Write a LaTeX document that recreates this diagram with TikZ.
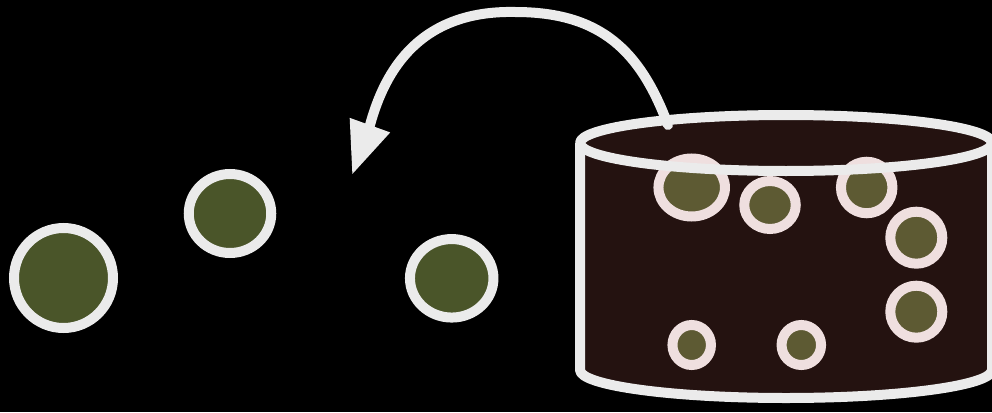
\documentclass[tikz,border=0pt]{standalone}
\usepackage{tikz}
\usetikzlibrary{arrows.meta,shapes.geometric}
\definecolor{Rimc}{RGB}{235,235,235}
\definecolor{Cellc}{RGB}{74,85,41}
\definecolor{Tubc}{RGB}{36,18,16}
\definecolor{Beadc}{RGB}{93,90,51}
\definecolor{BeadRim}{RGB}{239,223,223}
\tikzset{
  cell/.style={ellipse,draw=Rimc,fill=Cellc,line width=2mm,inner sep=0pt},
  bead/.style={ellipse,draw=BeadRim,fill=Beadc,line width=2mm,inner sep=0pt},
  rim/.style={draw=Rimc,line width=2mm,line join=round},
  carry/.style={-{Triangle[length=10.6mm,width=8mm]},draw=Rimc,fill=none,
                line width=2mm,line cap=round},
}

\begin{document}
\begin{tikzpicture}[x=0.2mm,y=-0.2mm]
  \fill[black] (0,0) rectangle (992,412);
  \useasboundingbox (0,0) rectangle (992,412);
  \clip (0,0) rectangle (992,412);
  % free cells
  \node[cell,minimum width=19.8mm,minimum height=20mm] (c1) at (63.5,278) {};
  \node[cell,minimum width=16.5mm,minimum height=15.8mm] (c2) at (230,213.5) {};
  \node[cell,minimum width=16.7mm,minimum height=15.7mm] (c3) at (451.7,278.3) {};
  % tub
  \fill[Tubc] (580,143) -- (580,370)
     arc[start angle=180,end angle=0,x radius=206,y radius=28] -- (992,143)
     arc[start angle=0,end angle=-180,x radius=206,y radius=28] -- cycle;
  \node[bead,minimum width=13.3mm,minimum height=11.6mm] (b1) at (691.7,187.5) {};
  \node[bead,minimum width=10.3mm,minimum height=9.6mm]  (b2) at (770,205) {};
  \node[bead,minimum width=10.3mm,minimum height=10.3mm] (b3) at (866.7,187.5) {};
  \node[bead,minimum width=10.4mm,minimum height=10.4mm] (b4) at (916.3,237.7) {};
  \node[bead,minimum width=10.4mm,minimum height=10.4mm] (b5) at (916.3,311.7) {};
  \node[bead,minimum width=7.7mm,minimum height=8mm]     (b6) at (691.7,345) {};
  \node[bead,minimum width=7.9mm,minimum height=8mm]     (b7) at (801.3,345) {};
  \draw[rim] (580,143) -- (580,370)
     arc[start angle=180,end angle=0,x radius=206,y radius=28] -- (992,143);
  \draw[rim] (786,143) ellipse [x radius=206,y radius=28];
  % lift out
  \coordinate (lip) at (668,125);
  \coordinate (drop) at (352,175);
  \draw[carry] (lip) .. controls (640,50) and (600,12) .. (515,12)
     .. controls (420,10) and (385,70) .. (370,125) -- (drop);
\end{tikzpicture}
\end{document}
